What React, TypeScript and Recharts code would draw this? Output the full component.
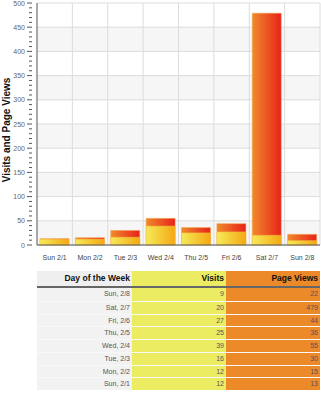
import React from "react";
import { BarChart, Bar, XAxis, YAxis, CartesianGrid } from "recharts";

const categories = ["Sun 2/1", "Mon 2/2", "Tue 2/3", "Wed 2/4", "Thu 2/5", "Fri 2/6", "Sat 2/7", "Sun 2/8"];
const visits = [12, 12, 16, 39, 25, 27, 20, 9];
const pageViews = [13, 15, 30, 55, 36, 44, 479, 22];
const yTicks = [0, 50, 100, 150, 200, 250, 300, 350, 400, 450, 500];
const minorTicks = Array.from({ length: 51 }, (_, i) => i * 10);
const tableDays = ["Sun, 2/8", "Sat, 2/7", "Fri, 2/6", "Thu, 2/5", "Wed, 2/4", "Tue, 2/3", "Mon, 2/2", "Sun, 2/1"];

const data = categories.map((c, i) => ({ name: c, visits: visits[i], pageViews: pageViews[i] }));
const tableRows = tableDays.map((d, i) => ({ day: d, visits: visits[visits.length - 1 - i], pageViews: pageViews[pageViews.length - 1 - i] }));

const FONT = "'Liberation Sans', Arial, sans-serif";

const YTick = (props: any) => {
  const { x, y, payload } = props;
  const major = payload.value % 50 === 0;
  return (
    <g>
      <line x1={x + 3} x2={x + (major ? -2 : 0)} y1={y} y2={y} stroke="#555" strokeWidth={1} />
      {major && (
        <text x={x - 4} y={y} dy={2.5} textAnchor="end" fontSize={7} fill="#666" fontFamily={FONT}>
          {payload.value}
        </text>
      )}
    </g>
  );
};

export default function App() {
  const W = 321;
  return (
    <div style={{ position: "absolute", left: 0, top: 0, width: W, height: 400, background: "#fff", fontFamily: FONT }}>
      <div
        style={{
          position: "absolute",
          left: 6,
          top: 130,
          transform: "translate(-50%, -50%) rotate(-90deg)",
          whiteSpace: "nowrap",
          fontSize: 10,
          fontWeight: "bold",
          color: "#111",
        }}
      >
        Visits and Page Views
      </div>
      <BarChart
        width={W}
        height={262}
        data={data}
        margin={{ top: 3, right: 1, bottom: 0, left: 0 }}
        barSize={29}
        barGap={-29}
        style={{ position: "absolute", left: 0, top: 0 }}
      >
        <defs>
          <linearGradient id="pvGrad" x1="0" y1="0" x2="1" y2="0">
            <stop offset="0%" stopColor="#f08a2a" />
            <stop offset="100%" stopColor="#e8221a" />
          </linearGradient>
          <linearGradient id="vGrad" x1="0" y1="0" x2="1" y2="0">
            <stop offset="0%" stopColor="#f6ea58" />
            <stop offset="100%" stopColor="#f4a814" />
          </linearGradient>
        </defs>
        <CartesianGrid
          stroke="#dcdcdc"
          horizontalValues={yTicks}
          verticalCoordinatesGenerator={({ offset }: any) =>
            categories.map((_, i) => offset.left + ((i + 1) * offset.width) / categories.length)
          }
          horizontalFill={["#ffffff", "#f6f6f6"]}
        />
        <XAxis
          dataKey="name"
          tickLine={false}
          axisLine={{ stroke: "#555" }}
          tick={{ fontSize: 7, fill: "#444", fontFamily: FONT }}
          interval={0}
          height={17}
          tickMargin={4}
        />
        <YAxis
          domain={[0, 500]}
          ticks={minorTicks}
          interval={0}
          width={37}
          tickLine={false}
          axisLine={{ stroke: "#555" }}
          tick={<YTick />}
        />
        <Bar dataKey="pageViews" fill="url(#pvGrad)" stroke="#f0a040" strokeWidth={0.5} isAnimationActive={false} />
        <Bar dataKey="visits" fill="url(#vGrad)" stroke="#f5c040" strokeWidth={0.5} isAnimationActive={false} />
      </BarChart>

      <div style={{ position: "absolute", left: 37, top: 271, width: 283 }}>
        <div style={{ display: "flex", height: 15, borderBottom: "2px solid #666", fontWeight: "bold", fontSize: 8.5, color: "#111" }}>
          <div style={{ width: 95, background: "#efefef", textAlign: "right", paddingRight: 2, boxSizing: "border-box", lineHeight: "15px" }}>Day of the Week</div>
          <div style={{ width: 94, background: "#ecec62", textAlign: "right", paddingRight: 2, boxSizing: "border-box", lineHeight: "15px" }}>Visits</div>
          <div style={{ width: 94, background: "#ec8a2a", textAlign: "right", paddingRight: 2, boxSizing: "border-box", lineHeight: "15px" }}>Page Views</div>
        </div>
        {tableRows.map((r, i) => (
          <div key={i} style={{ display: "flex", height: 12.75, borderTop: i === 0 ? "none" : "1px solid #f8f8f8", boxSizing: "border-box", fontSize: 7, color: "#555" }}>
            <div style={{ width: 95, background: "#f2f2f2", textAlign: "right", paddingRight: 2, boxSizing: "border-box", lineHeight: "12px" }}>{r.day}</div>
            <div style={{ width: 94, background: "#ecec62", textAlign: "right", paddingRight: 2, boxSizing: "border-box", lineHeight: "12px" }}>{r.visits}</div>
            <div style={{ width: 94, background: "#ec8a2a", textAlign: "right", paddingRight: 2, boxSizing: "border-box", lineHeight: "12px" }}>{r.pageViews}</div>
          </div>
        ))}
      </div>
    </div>
  );
}
